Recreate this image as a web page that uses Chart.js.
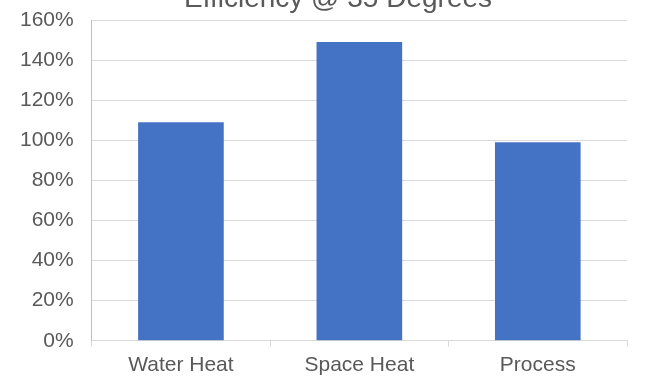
<!DOCTYPE html>
<html>
<head>
<meta charset="utf-8">
<script src="https://cdn.jsdelivr.net/npm/chart.js@4"></script>
<style>
  html, body { margin: 0; padding: 0; background: #fff; }
  #caja { position: relative; width: 656px; height: 376px; overflow: hidden; }
  #miGrafico { position: absolute; left: 0; top: -15px; }
</style>
</head>
<body>
<div id="caja">
  <canvas id="miGrafico" width="674" height="415"></canvas>
</div>
<script>
const contenedor = document.getElementById("miGrafico");

let usos = ['Water Heat', 'Space Heat', 'Process'];
let eficiencia = [109, 149, 99];
let titulo = 'Efficiency @ 35 Degrees';

const gris = '#595959';

const miGrafico = new Chart(contenedor, {
    type: 'bar',
    data: {
        labels: usos,
        datasets: [{
            label: 'Efficiency',
            data: eficiencia,
            backgroundColor: '#4472C4',
            borderWidth: 0,
            barPercentage: 0.48,
            categoryPercentage: 1
        }]
    },
    options: {
        responsive: false,
        animation: false,
        layout: {
            padding: { left: 2, right: 0, top: 0, bottom: 16 }
        },
        plugins: {
            legend: { display: false },
            tooltip: { enabled: false },
            title: {
                display: true,
                text: titulo,
                color: gris,
                font: { family: 'Liberation Sans, Arial', size: 28, weight: 'normal', lineHeight: 1 },
                padding: { top: 0, bottom: 7 }
            }
        },
        scales: {
            x: {
                grid: {
                    offset: true,
                    drawOnChartArea: false,
                    color: '#d9d9d9',
                    tickLength: 6
                },
                border: { color: '#d9d9d9' },
                ticks: {
                    color: gris,
                    padding: 6,
                    font: { family: 'Liberation Sans, Arial', size: 21 }
                }
            },
            y: {
                min: 0,
                max: 160,
                ticks: {
                    stepSize: 20,
                    color: gris,
                    padding: 18,
                    font: { family: 'Liberation Sans, Arial', size: 21 },
                    callback: v => v + '%'
                },
                grid: {
                    color: '#d9d9d9',
                    drawTicks: false
                },
                border: { color: '#bfbfbf' }
            },
            // eje vacio a la derecha: solo reserva espacio para que el titulo quede centrado como en el original
            derecha: {
                position: 'right',
                min: 0,
                max: 160,
                afterFit: eje => { eje.width = 47; },
                ticks: { display: false },
                grid: { drawOnChartArea: false, drawTicks: false },
                border: { display: false }
            }
        }
    }
});
</script>
</body>
</html>
